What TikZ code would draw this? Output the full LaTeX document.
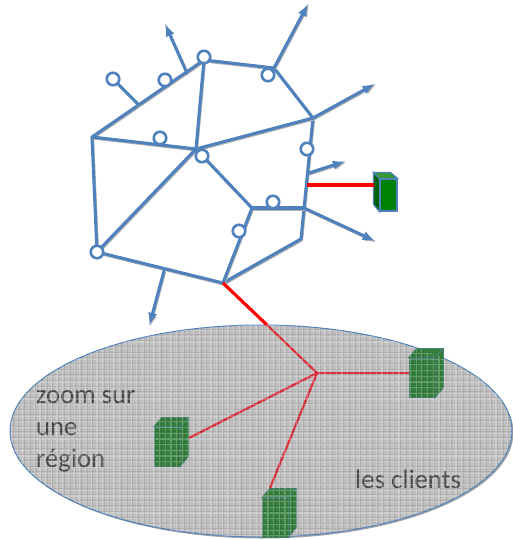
\documentclass[tikz,border=0pt]{standalone}
\usepackage{fontspec}
\setmainfont{Carlito}
\definecolor{netblue}{RGB}{79,129,189}
\definecolor{boxgreen}{RGB}{0,128,0}
\definecolor{boxtop}{RGB}{50,150,50}
\definecolor{boxdark}{RGB}{0,96,0}
\definecolor{clientgreen}{RGB}{52,128,60}
\definecolor{clientedge}{RGB}{70,130,110}
\definecolor{softred}{RGB}{222,48,58}
\definecolor{txtgray}{RGB}{72,72,72}
\tikzset{
>=latex,
shadowed/.style={preaction={draw=black!30,line width=2.6pt,transform canvas={shift={(0.8pt,-1.2pt)}}}},
link/.style={draw=netblue,line width=3.1pt,line cap=round,shadowed},
out link/.style={link,->,shorten >=-2pt},
wire/.style={draw=red,line width=3.2pt},
thin wire/.style={draw=softred,line width=2.2pt},
router/.style={circle,draw=netblue,line width=2.6pt,fill=white,minimum size=12.5pt,inner sep=0pt},
front/.style={draw=netblue,line width=1.2pt,fill=boxgreen,minimum width=17pt,minimum height=32pt,inner sep=0pt},
client/.style={draw=clientedge,line width=0.8pt,fill=clientgreen,minimum width=26pt,minimum height=39pt,inner sep=0pt},
label/.style={text=txtgray,font=\fontsize{26.7}{30}\selectfont,inner sep=0pt,anchor=base west},
}
\begin{document}
\begin{tikzpicture}[x=1pt,y=-1pt]
\useasboundingbox (0,0) rectangle (512,540);
% junctions of the network
\coordinate (nw) at (92,137);
\coordinate (top) at (204,60);
\coordinate (ne) at (274,68);
\coordinate (east) at (313,118);
\coordinate (se) at (301,239);
\coordinate (south) at (223,283);
\coordinate (sw) at (97,252);
\coordinate (mid) at (196,149);
\coordinate (inner) at (252,208);
\coordinate (side) at (304,208);
\coordinate (stub) at (139,105);
\coordinate (hub) at (317,373);
\coordinate (entry) at (267,325);
% free ends of the arrows
\coordinate (up1) at (166,26);
\coordinate (foot1) at (187,73);
\coordinate (up2) at (307,6);
\coordinate (right1) at (373,85);
\coordinate (foot2) at (309,173);
\coordinate (right2) at (343,162);
\coordinate (right3) at (373,240);
\coordinate (foot3) at (164,271);
\coordinate (down1) at (150,323);
\coordinate (tap) at (307,185);
\coordinate (srvend) at (374,185);
\coordinate (c2end) at (189,438);
\coordinate (c3end) at (270,488);
% the region
\path[fill=black!35,transform canvas={shift={(1.5pt,-1.5pt)}}] (261,431) ellipse [x radius=251,y radius=106];
\path[fill=black!25,draw=netblue,line width=1pt] (261,431) ellipse [x radius=251,y radius=106];
% network
\path[link] (nw) -- (top) -- (ne) -- (east) -- (se) -- (south) -- (sw) -- (nw);
\path[link] (nw) -- (mid) -- (east);
\path[link] (top) -- (mid) -- (sw);
\path[link] (mid) -- (inner) -- (south);
\path[link] (inner) -- (side);
\path[out link] (foot1) -- (up1);
\path[out link] (ne) -- (up2);
\path[out link] (east) -- (right1);
\path[out link] (foot2) -- (right2);
\path[out link] (side) -- (right3);
\path[out link] (foot3) -- (down1);
\node[router] (r1) at (113,79) {};
\path[link] (stub) -- (r1);
\node[router] (r2) at (165,80) {};
\node[router] (r3) at (204,57) {};
\node[router] (r4) at (268,75) {};
\node[router] (r5) at (160,138) {};
\node[router] (r6) at (202,156) {};
\node[router] (r7) at (307,149) {};
\node[router] (r8) at (273,202) {};
\node[router] (r9) at (239,231) {};
\node[router] (r10) at (97,252) {};
% client boxes
\node[front] (srv) at (388.5,195) {};
\path[draw=netblue,line width=1.2pt,fill=boxdark] (srv.north west) -- ++(-6,-6) -- ++(0,32) -- (srv.south west) -- cycle;
\path[draw=netblue,line width=1.2pt,fill=boxtop] (srv.north west) -- ++(-6,-6) -- ++(17,0) -- (srv.north east) -- cycle;
\node[client] (c1) at (422,377.5) {};
\node[client] (c2) at (167,446.5) {};
\node[client] (c3) at (275,517.5) {};
\foreach \c in {c1,c2,c3}{
\path[draw=clientedge,line width=0.8pt,fill=clientgreen] (\c.north east) -- ++(8,-9) -- ++(0,39) -- (\c.south east) -- cycle;
\path[draw=clientedge,line width=0.8pt,fill=clientgreen] (\c.north west) -- ++(8,-9) -- ++(26,0) -- (\c.north east) -- cycle;
}
% wires
\path[wire] (tap) -- (srvend);
\path[wire] (south) -- (entry);
\path[thin wire] (entry) -- (hub);
\path[thin wire] (hub) -- (c1.west |- hub);
\path[thin wire] (hub) -- (c2end);
\path[thin wire] (hub) -- (c3end);
% labels
\node[label] (t1) at (36,403) {zoom sur};
\node[label] (t2) at (36,435) {une};
\node[label] (t3) at (36,467) {région};
\node[label] (t4) at (355,488) {les clients};
% grid over the whole region
\begin{scope}
\clip (261,431) ellipse [x radius=251,y radius=106];
\draw[white,opacity=.24,line width=1.2pt,step=5.7pt] (0,320) grid (512,540);
\draw[black,opacity=.09,line width=.8pt,step=5.7pt,xshift=1.5pt,yshift=1.5pt] (0,320) grid (512,540);
\end{scope}
\end{tikzpicture}
\end{document}
